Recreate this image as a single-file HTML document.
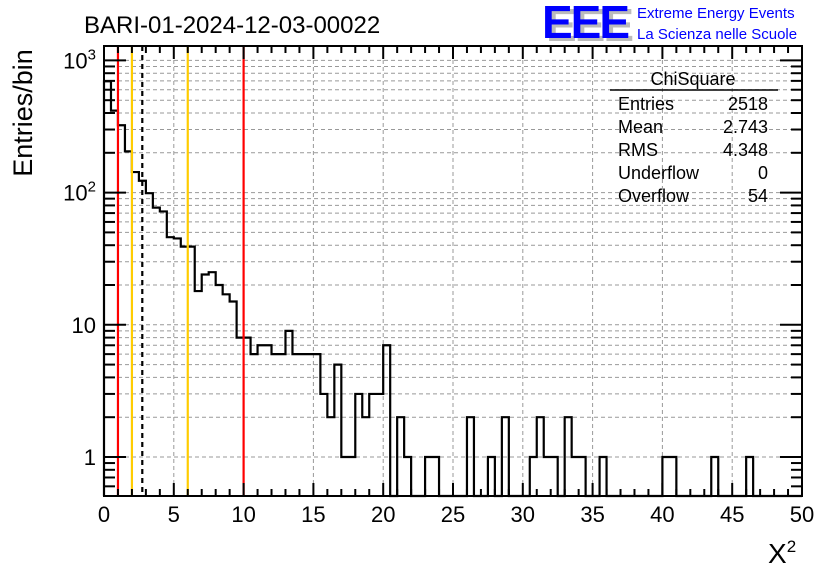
<!DOCTYPE html>
<html><head><meta charset="utf-8"><style>
body{margin:0;background:#fff;width:836px;height:572px;overflow:hidden}
svg{display:block}
text{font-family:"Liberation Sans",sans-serif}
</style></head><body>
<svg id="c" width="836" height="572">
<text x="84" y="33" font-size="24">BARI-01-2024-12-03-00022</text>
<g>
<text x="546" y="41" font-size="46" font-weight="bold" fill="#bbb" letter-spacing="-2">EEE</text>
<text x="542" y="38" font-size="46" font-weight="bold" fill="#0000ff" letter-spacing="-2">EEE</text>
<text x="637" y="18" font-size="15" fill="#0000ff">Extreme Energy Events</text>
<text x="637" y="39" font-size="15" fill="#0000ff">La Scienza nelle Scuole</text>
</g>
<text transform="translate(32,113) rotate(-90)" text-anchor="middle" font-size="27">Entries/bin</text>
<text x="768" y="563" font-size="28" font-family="Liberation Serif,serif">X<tspan font-size="17" dy="-11">2</tspan></text>
<g id="grid"></g><g id="marks"></g><g id="axes"></g>
<g font-size="18">
<text x="693" y="85" text-anchor="middle">ChiSquare</text>
<line x1="610" y1="90" x2="778" y2="90" stroke="#000" stroke-width="1.5"/>
<text x="618" y="110">Entries</text><text x="768" y="110" text-anchor="end">2518</text>
<text x="618" y="133">Mean</text><text x="768" y="133" text-anchor="end">2.743</text>
<text x="618" y="156">RMS</text><text x="768" y="156" text-anchor="end">4.348</text>
<text x="618" y="179">Underflow</text><text x="768" y="179" text-anchor="end">0</text>
<text x="618" y="202">Overflow</text><text x="768" y="202" text-anchor="end">54</text>
</g>
</svg>
<script>
const counts=[695,417,323,205,143,123,99,77,72,46,45,39,39,18,24,25,20,17,15,8,8,6,7,7,6,6,9,6,6,6,6,3,2,5,1,1,3,2,3,3,7,0,2,1,0,0,1,1,0,0,0,0,2,0,0,1,0,2,0,0,0,1,2,1,1,0,2,1,1,0,0,1,0,0,0,0,0,0,0,0,1,1,0,0,0,0,0,1,0,0,0,0,1,0,0,0,0,0,0,0];
const binWidth=0.5;
const xTickLabels=[0,5,10,15,20,25,30,35,40,45,50];
const yTickValues=[1,10,100,1000];
const yTickLabels=["1","10","10²","10³"];
const vLines=[{v:1,c:"#ff0000",d:""},{v:2,c:"#ffcc00",d:""},{v:2.743,c:"#000",d:"5,4"},{v:6,c:"#ffcc00",d:""},{v:10,c:"#ff0000",d:""}];
const L=104,R=802,T=46,B=496,xmin=0,xmax=50,ymin=0.5;
const X=v=>L+(v-xmin)/(xmax-xmin)*(R-L);
const Y=v=>Math.min(B,457-132.2*Math.log10(Math.max(v,ymin)));
const NS="http://www.w3.org/2000/svg";
function mk(p,t,a){const e=document.createElementNS(NS,t);for(const k in a)e.setAttribute(k,a[k]);p.appendChild(e);return e;}
const grid=document.getElementById('grid'),marks=document.getElementById('marks'),axes=document.getElementById('axes');
for(let v=5;v<50;v+=5){const g=mk(grid,'line',{x1:X(v),x2:X(v),y1:T,y2:B,stroke:'#999','stroke-dasharray':'4,3'});

}
for(let d=0;d<4;d++)for(let m=1;m<10;m++){const v=m*Math.pow(10,d);if(v<ymin||Y(v)<T)continue;
const g=mk(grid,'line',{x1:L,x2:R,y1:Y(v),y2:Y(v),stroke:'#999','stroke-dasharray':'4,3'});

}
let d=`M${X(0)},${B}`;
counts.forEach((c,i)=>{const y=c>0?Y(c):B;d+=` L${X(i*binWidth)},${y} L${X((i+1)*binWidth)},${y}`;});
d+=` L${X(counts.length*binWidth)},${B}`;
const h=mk(marks,'path',{d:d,fill:'none',stroke:'#000','stroke-width':2.2});


vLines.forEach(l=>{const e=mk(marks,'line',{x1:X(l.v),x2:X(l.v),y1:T,y2:B,stroke:l.c,'stroke-width':2.2,'stroke-dasharray':l.d});

});
const fr=mk(axes,'rect',{x:L,y:T,width:R-L,height:B-T,fill:'none',stroke:'#000','stroke-width':2});


for(let v=0;v<=50;v++){const len=v%5==0?13:7;
mk(axes,'line',{x1:X(v),x2:X(v),y1:B,y2:B-len,stroke:'#000','stroke-width':2});
mk(axes,'line',{x1:X(v),x2:X(v),y1:T,y2:T+len,stroke:'#000','stroke-width':2});}
xTickLabels.forEach(v=>{const t=mk(axes,'text',{x:X(v),y:522,'text-anchor':'middle','font-size':22});t.textContent=v;

});
for(let dd=-1;dd<4;dd++)for(let m=1;m<10;m++){const v=m*Math.pow(10,dd);if(v<ymin||Y(v)<T)continue;const len=m==1?22:11;
mk(axes,'line',{x1:L,x2:L+len,y1:Y(v),y2:Y(v),stroke:'#000','stroke-width':2});
mk(axes,'line',{x1:R,x2:R-len,y1:Y(v),y2:Y(v),stroke:'#000','stroke-width':2});}
yTickValues.forEach((v,i)=>{const lab=yTickLabels[i];const t=mk(axes,'text',{x:96,y:Y(v)+8,'text-anchor':'end','font-size':22});
if(lab.length>2){t.textContent='10';const s=mk(t,'tspan',{dy:-9,'font-size':15});s.textContent=lab==='10²'?'2':'3';}else t.textContent=lab;

});
</script>
</body></html>
